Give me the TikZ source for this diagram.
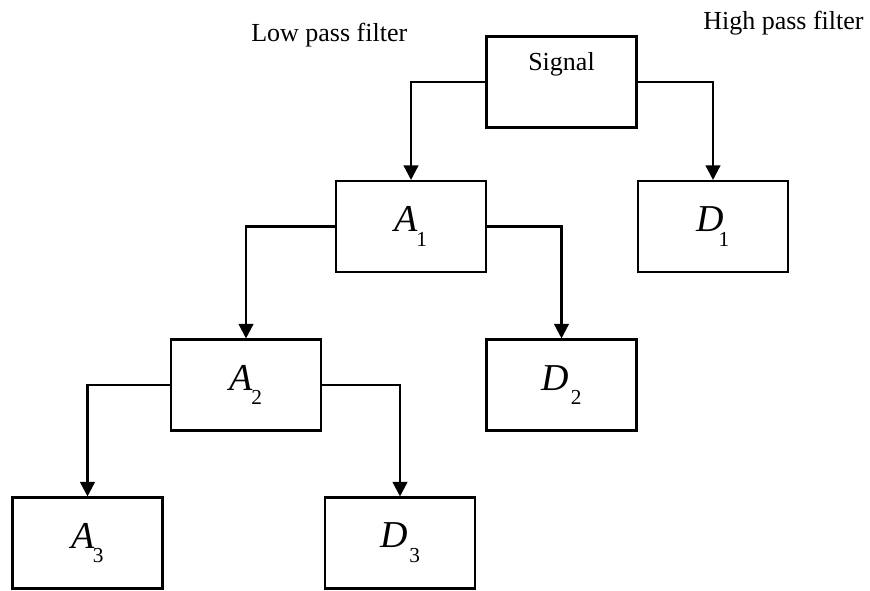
\documentclass[tikz,border=0pt]{standalone}
\usepackage{fontspec}
\setmainfont{Liberation Serif}
\usetikzlibrary{arrows.meta}
% lowered small index after a letter
\newcommand{\idx}[1]{\raisebox{-.85ex}{\fontsize{16}{16}\selectfont #1}}
\begin{document}
\begin{tikzpicture}[x=0.75pt,y=-0.75pt,
  blk/.style={draw,line width=1.8pt,minimum width=112.5pt,minimum height=68pt,font=\fontsize{28.5}{30}\selectfont},
  lnk/.style={line width=1.8pt,-{Triangle[length=11pt,width=11pt]}},
  ttl/.style={font=\fontsize{19.5}{22}\selectfont,inner sep=0pt}]
\useasboundingbox (0,0) rectangle (870,590);
\node[blk,label={[ttl,anchor=base,yshift=-26.6pt]north:Signal}] (sig) at (561.5,82) {};
\node[blk] (A1) at (411,226.5) {\textit{A}\kern-.05em\idx{1}};
\node[blk] (D1) at (713,226.5) {\textit{D}\kern-.15em\idx{1}};
\node[blk] (A2) at (246,385) {\textit{A}\kern-.05em\idx{2}};
\node[blk] (D2) at (561.5,385) {\textit{D}\kern.05em\idx{2}};
\node[blk] (A3) at (87.5,543) {\textit{A}\kern-.05em\idx{3}};
\node[blk] (D3) at (400,543) {\textit{D}\kern.05em\idx{3}};
\node[ttl,anchor=base west] (lp) at (251,41) {Low pass filter};
\node[ttl,anchor=base west] (hp) at (703,29) {High pass filter};
\draw[lnk] (sig.west) -| (A1.north);
\draw[lnk] (sig.east) -| (D1.north);
\draw[lnk] (A1.west) -| (A2.north);
\draw[lnk] (A1.east) -| (D2.north);
\draw[lnk] (A2.west) -| (A3.north);
\draw[lnk] (A2.east) -| (D3.north);
\end{tikzpicture}
\end{document}
